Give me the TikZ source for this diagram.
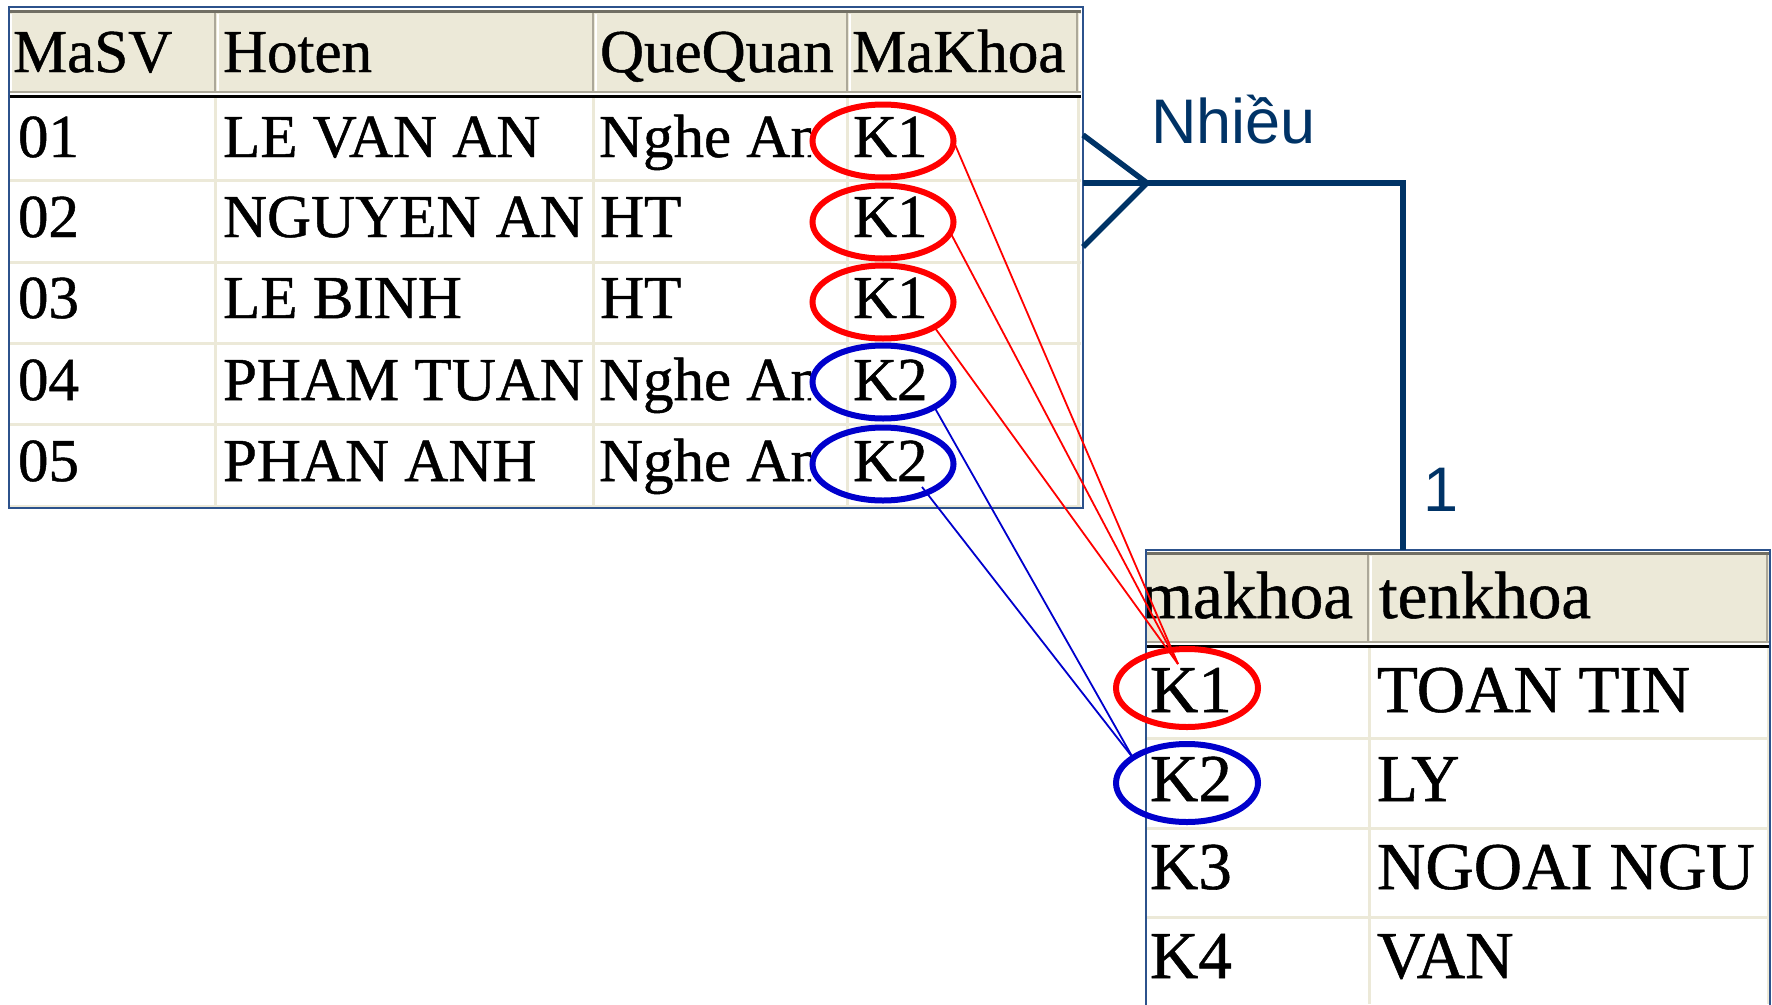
\documentclass[tikz,border=0pt]{standalone}
\usepackage{fontspec}
\setmainfont{Liberation Serif}[FakeBold=0.8]
\newfontfamily\labelfont{Liberation Sans}
\usetikzlibrary{shapes.geometric,calc}
\definecolor{hdrfill}{HTML}{ECE9D8}
\definecolor{hdrshade}{HTML}{ACA899}
\definecolor{hdrdark}{HTML}{716F64}
\definecolor{gridbeige}{HTML}{ECE9D8}
\definecolor{frameblue}{RGB}{44,82,140}
\definecolor{relnavy}{RGB}{0,51,102}
\definecolor{markred}{RGB}{255,0,0}
\definecolor{markblue}{RGB}{0,0,204}
\begin{document}
\begin{tikzpicture}[x=1pt,y=-1pt,
  txtA/.style={anchor=base west,inner sep=0pt,outer sep=0pt,font=\fontsize{61}{61}\selectfont},
  txtB/.style={anchor=base west,inner sep=0pt,outer sep=0pt,font=\fontsize{67}{67}\selectfont},
  tblframe/.style={draw=frameblue,line width=2pt,inner sep=0pt,outer sep=0pt,anchor=north west},
  cellrule/.style={draw=gridbeige,line width=3pt},
  hdrsep/.style={draw=hdrshade,line width=2.5pt},
  hdrlight/.style={draw=white,line width=2pt},
  ringA/.style={ellipse,draw=#1,line width=6pt,inner sep=0pt,outer sep=0pt,
    minimum width=141pt,minimum height=73pt},
  ringB/.style={ellipse,draw=#1,line width=6pt,inner sep=0pt,outer sep=0pt,
    minimum width=142pt,minimum height=78pt},
  redlink/.style={draw=markred,line width=1.8pt},
  bluelink/.style={draw=markblue,line width=1.8pt},
  rel/.style={draw=relnavy,line width=5.5pt,line join=miter},
  card/.style={anchor=base west,inner sep=0pt,text=relnavy,font=\labelfont\fontsize{63}{63}\selectfont}
]
\useasboundingbox (0,0) rectangle (1772,1004);
\clip (0,0) rectangle (1772,1004);

% ---------- table SINHVIEN ----------
% header band
\fill[hdrfill] (10,12) rectangle (1081,93);
\draw[hdrdark,line width=3pt] (10,11.5) -- (1081,11.5);
\draw[hdrshade,line width=2pt] (10,92) -- (1081,92);
\foreach \cx in {215,593,847,1077}{
  \draw[hdrsep] (\cx,13) -- (\cx,93);
  \draw[hdrlight] (\cx+2.5,14) -- (\cx+2.5,91);
}
\draw[hdrlight] (11,14) -- (11,91);
% body grid
\foreach \ry in {180,262,343,424,506}
  \draw[cellrule] (10,\ry) -- (1081,\ry);
\foreach \cx in {215,593,847,1078}
  \draw[cellrule] (\cx,97) -- (\cx,507);
\draw[black,line width=3pt] (10,96) -- (1081,96);

% header labels
\node[txtA] (hMaSV)   at (13,72)  {MaSV};
\node[txtA] (hHoten)  at (223,72) {Hoten};
\node[txtA] (hQue)    at (600,72) {QueQuan};
\node[txtA] (hMaKhoa) at (852,72) {MaKhoa};

% rows
\node[txtA] (m1) at (18,157) {01};
\node[txtA] (m2) at (18,237) {02};
\node[txtA] (m3) at (18,318) {03};
\node[txtA] (m4) at (18,400) {04};
\node[txtA] (m5) at (18,481) {05};
\node[txtA] (n1) at (223,157) {LE VAN AN};
\node[txtA] (n2) at (223,237) {NGUYEN AN};
\node[txtA] (n3) at (223,318) {LE BINH};
\node[txtA] (n4) at (223,400) {PHAM TUAN};
\node[txtA] (n5) at (223,481) {PHAN ANH};
\begin{scope}
  \clip (595,97) rectangle (811,507);
  \node[txtA] (q1) at (599,157) {Nghe An};
  \node[txtA] (q2) at (600,237) {HT};
  \node[txtA] (q3) at (600,318) {HT};
  \node[txtA] (q4) at (599,400) {Nghe An};
  \node[txtA] (q5) at (599,481) {Nghe An};
\end{scope}
\node[txtA] (k1) at (853,157) {K1};
\node[txtA] (k2) at (853,237) {K1};
\node[txtA] (k3) at (853,318) {K1};
\node[txtA] (k4) at (853,400) {K2};
\node[txtA] (k5) at (853,481) {K2};

\node[tblframe,minimum width=1074pt,minimum height=501pt] (sv) at (9,7) {};

% ---------- table KHOA ----------
\fill[hdrfill] (1147,555) rectangle (1769,643);
\draw[hdrdark,line width=3pt] (1147,553) -- (1769,553);
\draw[hdrshade,line width=2pt] (1147,642) -- (1769,642);
\foreach \cx in {1368,1767}{
  \draw[hdrsep] (\cx,555) -- (\cx,643);
}
\draw[hdrlight] (1371,556) -- (1371,641);
\foreach \ry in {738,828,917}
  \draw[cellrule] (1147,\ry) -- (1769,\ry);
\foreach \cx in {1369,1768}
  \draw[cellrule] (\cx,648) -- (\cx,1004);
\draw[black,line width=3pt] (1147,646) -- (1769,646);

\begin{scope}
  \clip (1147,555) rectangle (1366,643);
  \node[txtB,anchor=base east] (hmk) at (1353,618) {makhoa};
\end{scope}
\node[txtB] (htk) at (1379,618) {tenkhoa};
\node[txtB] (c1) at (1150,712) {K1};
\node[txtB] (c2) at (1150,801) {K2};
\node[txtB] (c3) at (1150,889) {K3};
\node[txtB] (c4) at (1150,978) {K4};
\node[txtB] (t1) at (1377,712) {TOAN TIN};
\node[txtB] (t2) at (1377,801) {LY};
\node[txtB] (t3) at (1377,889) {NGOAI NGU};
\node[txtB] (t4) at (1377,978) {VAN};

\node[tblframe,minimum width=624pt,minimum height=480pt] (kh) at (1146,550) {};

% ---------- highlighted keys ----------
\node[ringA=markred]  (e1) at (883,141) {};
\node[ringA=markred]  (e2) at (883,222) {};
\node[ringA=markred]  (e3) at (883,302) {};
\node[ringA=markblue] (e4) at (883,382) {};
\node[ringA=markblue] (e5) at (883,464) {};
\node[ringB=markred]  (f1) at (1187,688) {};
\node[ringB=markblue] (f2) at (1187,783) {};

\coordinate (hit1) at ($(f1.center)+(-9,-24)$);
\coordinate (e5in) at ($(e5.center)+(39,23)$);

\draw[redlink] (e1.east) -- (hit1);
\draw[redlink] (e2.-9) -- (hit1);
\draw[redlink] (e3.-26) -- (hit1);
\draw[bluelink] (e4.-26) -- (f2.155);
\draw[bluelink] (e5in) -- (f2.155);

% ---------- relationship ----------
\coordinate (apex) at (1147,183);
\coordinate (legtop) at (1083,135);
\coordinate (legbot) at (1083,247);
\coordinate (bend) at (1403,183);
\draw[rel] (legtop) -- (apex) -- (legbot);
\draw[rel] (sv.east |- apex) -- (bend) -- (bend |- kh.north);

\node[card] (many) at (1151,143) {Nhiều};
\node[card] (one) at (1423,511) {1};
\end{tikzpicture}
\end{document}
